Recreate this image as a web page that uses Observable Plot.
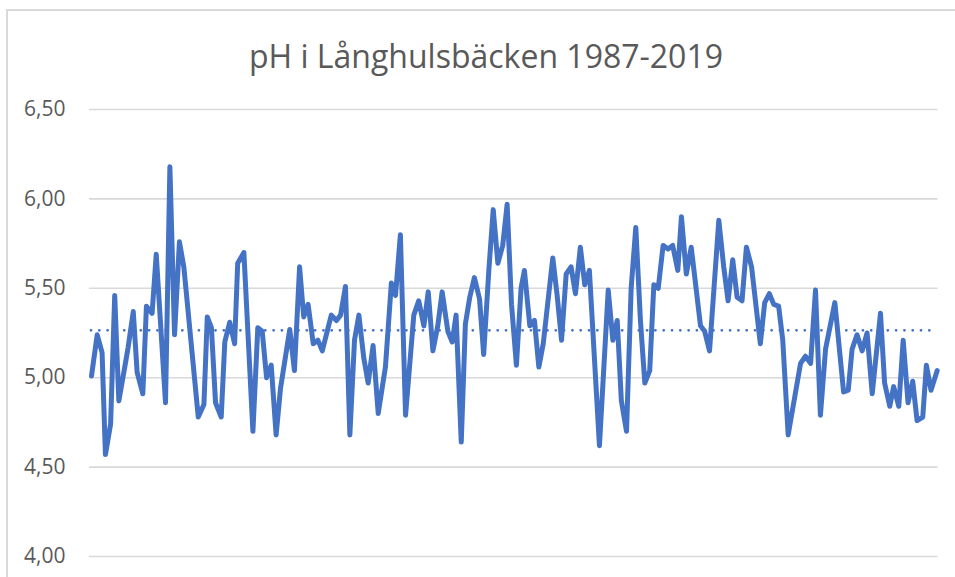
<!DOCTYPE html>
<html>
<head>
<meta charset="utf-8">
<script src="https://cdn.jsdelivr.net/npm/d3@7"></script>
<script src="https://cdn.jsdelivr.net/npm/@observablehq/plot@0.6"></script>
<style>
  html, body { margin: 0; padding: 0; background: #fff; width: 955px; height: 577px; overflow: hidden; position: relative; }
  #frame { position: absolute; left: 6px; top: 9px; width: 1000px; height: 1000px; border-left: 2px solid #d9d9d9; border-top: 2px solid #d9d9d9; }
  #title { position: absolute; left: 0; top: 40px; width: 972px; text-align: center; font-family: "Open Sans", sans-serif; font-size: 32px; line-height: 32px; color: #595959; white-space: nowrap; }
  #chart { position: absolute; left: 0; top: 90px; }
</style>
</head>
<body>
<div id="frame"></div>
<div id="title">pH i Långhulsbäcken 1987-2019</div>
<div id="chart"></div>
<script>
// Sampling dates (decimal years) and measured pH
const dates = [
  1987.00, 1987.22, 1987.41, 1987.54, 1987.74, 1987.90, 1988.06, 1988.29, 1988.42, 1988.62,
  1988.77, 1988.99, 1989.13, 1989.35, 1989.51, 1989.87, 1990.04, 1990.22, 1990.41, 1990.58,
  1991.14, 1991.36, 1991.49, 1991.65, 1991.81, 1992.03, 1992.17, 1992.36, 1992.55, 1992.67,
  1992.91, 1993.26, 1993.45, 1993.62, 1993.79, 1993.97, 1994.16, 1994.33, 1994.69, 1994.87,
  1995.07, 1995.23, 1995.40, 1995.60, 1995.78, 1995.95, 1996.30, 1996.50, 1996.66, 1996.85,
  1997.02, 1997.20, 1997.37, 1997.56, 1997.73, 1997.92, 1998.12, 1998.40, 1998.63, 1998.79,
  1998.98, 1999.18, 1999.50, 1999.69, 1999.89, 2000.06, 2000.24, 2000.43, 2000.60, 2000.82,
  2000.99, 2001.14, 2001.34, 2001.50, 2001.67, 2001.85, 2002.05, 2002.21, 2002.41, 2002.58,
  2002.76, 2002.95, 2003.12, 2003.29, 2003.48, 2003.66, 2003.79, 2004.00, 2004.18, 2004.35,
  2004.52, 2004.89, 2005.06, 2005.23, 2005.41, 2005.60, 2005.77, 2005.96, 2006.13, 2006.31,
  2006.70, 2007.04, 2007.22, 2007.39, 2007.55, 2007.75, 2007.93, 2008.11, 2008.29, 2008.46,
  2008.65, 2008.81, 2008.98, 2009.17, 2009.36, 2009.54, 2009.74, 2009.88, 2010.07, 2010.26,
  2010.62, 2010.78, 2010.97, 2011.33, 2011.52, 2011.69, 2011.87, 2012.04, 2012.23, 2012.40,
  2012.60, 2012.94, 2013.11, 2013.29, 2013.46, 2013.65, 2013.81, 2014.02, 2014.50, 2014.69,
  2014.89, 2015.08, 2015.27, 2015.47, 2015.83, 2016.17, 2016.35, 2016.50, 2016.69, 2016.89,
  2017.08, 2017.28, 2017.60, 2017.76, 2017.96, 2018.11, 2018.31, 2018.48, 2018.67, 2018.85,
  2019.02, 2019.24, 2019.38, 2019.56, 2019.80
];
const ph = [
  5.01, 5.24, 5.14, 4.57, 4.74, 5.46, 4.87, 5.06, 5.17, 5.37,
  5.03, 4.91, 5.40, 5.36, 5.69, 4.86, 6.18, 5.24, 5.76, 5.62,
  4.78, 4.85, 5.34, 5.28, 4.86, 4.78, 5.20, 5.31, 5.19, 5.64,
  5.70, 4.70, 5.28, 5.26, 5.00, 5.07, 4.68, 4.94, 5.27, 5.04,
  5.62, 5.34, 5.41, 5.19, 5.21, 5.15, 5.35, 5.32, 5.35, 5.51,
  4.68, 5.21, 5.35, 5.11, 4.97, 5.18, 4.80, 5.06, 5.53, 5.46,
  5.80, 4.79, 5.35, 5.43, 5.29, 5.48, 5.15, 5.29, 5.48, 5.26,
  5.20, 5.35, 4.64, 5.30, 5.45, 5.56, 5.44, 5.13, 5.60, 5.94,
  5.64, 5.74, 5.97, 5.41, 5.07, 5.50, 5.60, 5.29, 5.32, 5.06,
  5.19, 5.67, 5.46, 5.21, 5.58, 5.62, 5.47, 5.73, 5.52, 5.60,
  4.62, 5.49, 5.21, 5.32, 4.87, 4.70, 5.50, 5.84, 5.32, 4.97,
  5.04, 5.52, 5.50, 5.74, 5.72, 5.74, 5.60, 5.90, 5.58, 5.73,
  5.29, 5.26, 5.15, 5.88, 5.62, 5.43, 5.66, 5.45, 5.43, 5.73,
  5.62, 5.19, 5.42, 5.47, 5.41, 5.40, 5.21, 4.68, 5.08, 5.12,
  5.08, 5.49, 4.79, 5.16, 5.42, 4.92, 4.93, 5.16, 5.24, 5.15,
  5.25, 4.91, 5.36, 4.97, 4.84, 4.95, 4.84, 5.21, 4.86, 4.98,
  4.76, 4.78, 5.07, 4.93, 5.04
];
const average = 5.265;
const yTicks = [4.0, 4.5, 5.0, 5.5, 6.0, 6.5];

const data = dates.map((d, i) => ({date: d, ph: ph[i]}));
const avgRow = [{y: average, x1: dates[0], x2: dates[dates.length - 1]}];
const blue = "#4472C4";

const chart = Plot.plot({
  width: 955,
  height: 487,
  marginTop: 19,
  marginBottom: 21,
  marginLeft: 89,
  marginRight: 17.5,
  style: {fontFamily: "'Open Sans', sans-serif", fontSize: "21px", color: "#595959", background: "transparent", overflow: "visible"},
  x: {type: "linear", domain: [1986.922, 2019.831], axis: null},
  y: {domain: [4, 6.5], ticks: yTicks},
  marks: [
    Plot.gridY(yTicks, {stroke: "#d9d9d9", strokeOpacity: 1, strokeWidth: 1.6}),
    Plot.axisY(yTicks, {tickSize: 0, tickPadding: 24, tickFormat: d => d.toFixed(2).replace(".", ","), fill: "#595959", label: null}),
    Plot.ruleY(avgRow, {y: "y", x1: "x1", x2: "x2", stroke: blue, strokeWidth: 2.8, strokeDasharray: "0 8.3", strokeLinecap: "round"}),
    Plot.line(data, {x: "date", y: "ph", stroke: blue, strokeWidth: 5, strokeLinejoin: "round", strokeLinecap: "round"})
  ]
});
document.getElementById("chart").appendChild(chart);
</script>
</body>
</html>
